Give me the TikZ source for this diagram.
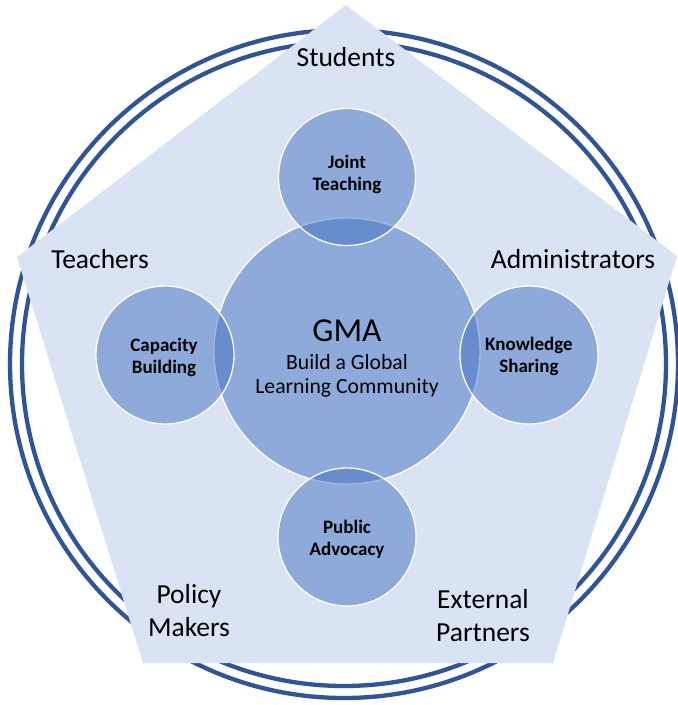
\documentclass[tikz,border=0pt]{standalone}
\usepackage{fontspec}
\setmainfont{Carlito}
\definecolor{ringblue}{HTML}{2F5597}
\definecolor{penta}{HTML}{DAE3F3}
\definecolor{accent}{HTML}{4472C4}
\begin{document}
\begin{tikzpicture}[x=1pt,y=-1pt,
  ring/.style={draw=ringblue,line width=4.3pt},
  bubble/.style={circle,fill=accent,fill opacity=0.5,draw=white,draw opacity=1,line width=1.3pt,inner sep=0pt,text opacity=1},
  small/.style={align=center,font=\fontsize{19}{21.5}\selectfont\bfseries,text=black},
  group/.style={align=center,font=\fontsize{27.5}{32.5}\selectfont,text=black}]
\useasboundingbox (0,0) rectangle (678,705);
% double ring behind the pentagon
\draw[ring] (344,364) circle[radius=334];
\draw[ring] (344,364) circle[radius=322];
% pentagon of stakeholder groups
\fill[penta] (346,5) -- (677,256) -- (553,663) -- (143,663) -- (17,257) -- cycle;
% central circle and the four activity circles
\node[bubble,minimum size=266pt] (gma) at (347,351) {};
\node[bubble,minimum size=137pt] (joint) at (347,177) {};
\node[bubble,minimum size=138pt] (cap) at (165,355) {};
\node[bubble,minimum size=138pt] (know) at (529,355) {};
\node[bubble,minimum size=138pt] (pub) at (347,537) {};
% texts in the circles (anchor base = baseline of the last line)
\node[align=center,anchor=base,font=\fontsize{33.5}{36}\selectfont] (gmat) at (347,341) {GMA};
\node[align=center,anchor=base,font=\fontsize{21.7}{24}\selectfont] (goal) at (347,393) {Build a Global\\Learning Community};
\node[small,anchor=base] (jt) at (347,190) {Joint\\Teaching};
\node[small,anchor=base] (cb) at (164,373) {Capacity\\Building};
\node[small,anchor=base] (ks) at (529,372) {Knowledge\\Sharing};
\node[small,anchor=base] (pa) at (347,555) {Public\\Advocacy};
% stakeholder group labels
\node[group,anchor=base] (stu) at (346,66) {Students};
\node[group,anchor=base] (tea) at (100,268) {Teachers};
\node[group,anchor=base] (adm) at (573,268) {Administrators};
\node[group,anchor=base] (pol) at (189,636) {Policy\\Makers};
\node[group,anchor=base] (ext) at (483,641) {External\\Partners};
\end{tikzpicture}
\end{document}
